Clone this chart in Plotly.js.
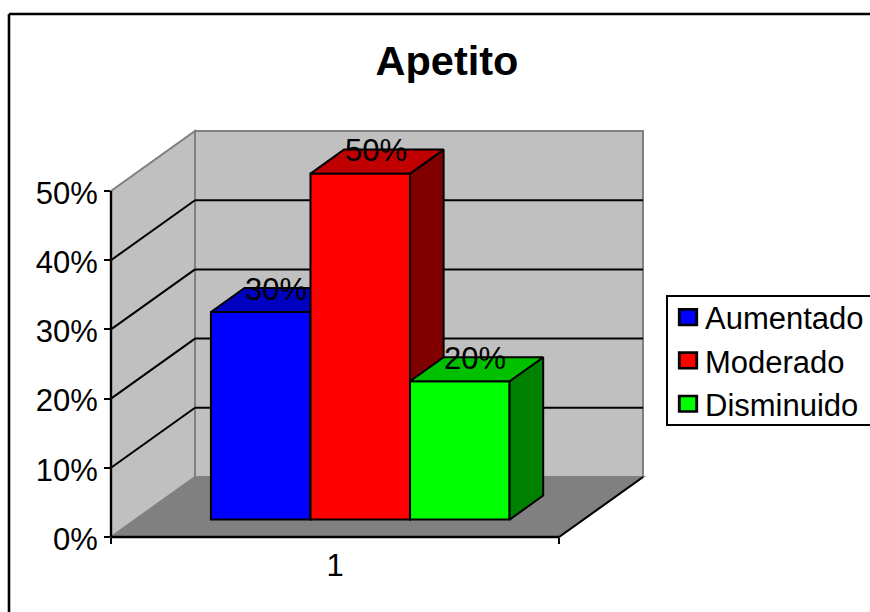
<!DOCTYPE html>
<html>
<head>
<meta charset="utf-8">
<script src="https://cdn.plot.ly/plotly-3.0.1.min.js"></script>
<style>
  html, body { margin: 0; padding: 0; background: #fff; overflow: hidden; }
  /* Larger legend swatches than the library default */
  .legend .legendpoints path { transform: translate(23px, 0) scale(1.45, 1.3); }
</style>
</head>
<body>
<div id="chart" style="width:870px;height:612px"></div>
<script>
// Series and labels
const seriesNames = ['Aumentado', 'Moderado', 'Disminuido'];
const seriesValues = [30, 50, 20];
const frontColors = ['#0000ff', '#ff0000', '#00ff00'];
const topColors = ['#0000c0', '#c00000', '#00c000'];
const sideColors = ['#000080', '#800000', '#008000'];
const categoryLabel = '1';
const valueTicks = [0, 10, 20, 30, 40, 50];
const valueTickLabels = ['0%', '10%', '20%', '30%', '40%', '50%'];

// Oblique projection: one full unit of depth moves a point by (depthX, depthY) in axis units
const depthX = 0.1875;
const depthY = 8.67;
const barDepthStart = 0.29;
const barDepthSize = 0.4;
const barInset = 0.002;
const gapWidth = 1.5;
const barWidth = 1 / (seriesNames.length + gapWidth);

const xRange = [0.5, 1.5 + depthX];
const yRange = [0, 50 + depthY];
const plotBox = { l: 111, r: 643, t: 131, b: 537 };

const project = (x, y, d) => [x + d * depthX, y + d * depthY];
const paperX = x => (x - xRange[0]) / (xRange[1] - xRange[0]);
const paperY = y => (y - yRange[0]) / (yRange[1] - yRange[0]);
// Window pixels to paper fractions, for items outside the plot box
const pixelX = px => (px - plotBox.l) / (plotBox.r - plotBox.l);
const pixelY = py => (plotBox.b - py) / (plotBox.b - plotBox.t);

// Closed SVG path in paper coordinates from projected points
function facePath(points) {
  return 'M' + points.map(p => paperX(p[0]) + ',' + paperY(p[1])).join('L') + 'Z';
}
function area(points, fill, edge) {
  return { type: 'path', xref: 'paper', yref: 'paper', layer: 'below', path: facePath(points),
           fillcolor: fill, line: { color: edge, width: 2 } };
}
function segment(a, b, color, width) {
  return { type: 'line', xref: 'paper', yref: 'paper', layer: 'below',
           x0: paperX(a[0]), y0: paperY(a[1]), x1: paperX(b[0]), y1: paperY(b[1]),
           line: { color: color, width: width } };
}

const x0 = 0.5, x1 = 1.5, wallTop = 50;
const shapes = [
  // Floor, side wall and back wall
  area([project(x0, 0, 0), project(x1, 0, 0), project(x1, 0, 1), project(x0, 0, 1)], '#808080', '#808080'),
  area([project(x0, 0, 0), project(x0, wallTop, 0), project(x0, wallTop, 1), project(x0, 0, 1)], '#c0c0c0', '#808080'),
  area([project(x0, 0, 1), project(x0, wallTop, 1), project(x1, wallTop, 1), project(x1, 0, 1)], '#c0c0c0', '#808080')
];
// Gridlines run along the side wall and across the back wall
valueTicks.filter(v => v > 0 && v < wallTop).forEach(v => {
  shapes.push(segment(project(x0, v, 0), project(x0, v, 1), '#000', 2));
  shapes.push(segment(project(x0, v, 1), project(x1, v, 1), '#000', 2));
});
// Axis lines along the front of the box and the right floor edge
shapes.push(segment(project(x1, 0, 0), project(x1, 0, 1), '#000', 2));
shapes.push(segment(project(x0, 0, 0), project(x1, 0, 0), '#000', 2.4));
shapes.push(segment(project(x0, 0, 0), project(x0, wallTop, 0), '#000', 2.4));

// Chart frame along the top and left edges
[[9, 14, 872, 14], [9, 14, 9, 614]].forEach(c => {
  shapes.push({ type: 'line', xref: 'paper', yref: 'paper',
                x0: pixelX(c[0]), y0: pixelY(c[1]), x1: pixelX(c[2]), y1: pixelY(c[3]),
                line: { color: '#000', width: 2.6 } });
});
// Legend box, open past the right edge of the window
shapes.push({ type: 'rect', xref: 'paper', yref: 'paper',
              x0: pixelX(667), y0: pixelY(296), x1: pixelX(875), y1: pixelY(425),
              fillcolor: '#fff', line: { color: '#000', width: 2 } });

// Each bar lives on its own overlaid axis pair so nearer bars paint over farther ones
const traces = [];
const annotations = [];
seriesNames.forEach((name, i) => {
  const value = seriesValues[i];
  const xa = i === 0 ? 'x' : 'x' + (i + 1);
  const ya = i === 0 ? 'y' : 'y' + (i + 1);
  const left = x0 + barInset + barWidth * gapWidth / 2 + i * barWidth;
  const right = left + barWidth;
  const d0 = barDepthStart, d1 = barDepthStart + barDepthSize;
  const front = project(left + barWidth / 2, 0, d0);

  traces.push({
    type: 'bar', name: name, x: [front[0]], y: [value], base: [front[1]], width: [barWidth],
    xaxis: xa, yaxis: ya, marker: { color: frontColors[i], line: { color: '#000', width: 2 } },
    hoverinfo: 'name+y', legendrank: i + 1
  });

  const side = [project(right, 0, d0), project(right, value, d0), project(right, value, d1), project(right, 0, d1), project(right, 0, d0)];
  const topFace = [project(left, value, d0), project(right, value, d0), project(right, value, d1), project(left, value, d1), project(left, value, d0)];
  [[side, sideColors[i]], [topFace, topColors[i]]].forEach(f => {
    traces.push({
      type: 'scatter', mode: 'lines', x: f[0].map(p => p[0]), y: f[0].map(p => p[1]),
      fill: 'toself', fillcolor: f[1], line: { color: '#000', width: 2 },
      xaxis: xa, yaxis: ya, showlegend: false, hoverinfo: 'skip'
    });
  });

  const labelAt = project(left + barWidth / 2, value, d1);
  annotations.push({
    xref: 'x', yref: 'y', x: labelAt[0] - barDepthSize / 2 * depthX, y: labelAt[1], xshift: -1.5, yshift: -1,
    text: value + '%', showarrow: false, xanchor: 'center', yanchor: 'middle',
    font: { family: 'Liberation Sans', size: 31, color: '#000' }
  });
});

const layout = {
  width: 870, height: 612,
  margin: { l: plotBox.l, r: 870 - plotBox.r, t: plotBox.t, b: 612 - plotBox.b, autoexpand: false },
  paper_bgcolor: '#fff', plot_bgcolor: 'rgba(0,0,0,0)',
  font: { family: 'Liberation Sans', size: 31, color: '#000' },
  barmode: 'overlay',
  title: {
    text: '<b>Apetito</b>', xref: 'container', yref: 'container', x: 447 / 870, y: 1 - 60 / 612,
    xanchor: 'center', yanchor: 'middle', font: { family: 'Liberation Sans', size: 41.5, color: '#000' }
  },
  xaxis: {
    type: 'linear', range: xRange, fixedrange: true, showgrid: false, zeroline: false, showline: false,
    tickmode: 'array', tickvals: [1], ticktext: [categoryLabel], ticks: '', ticklabelstandoff: 7,
    minor: { tickmode: 'array', tickvals: [x0, x1], ticks: 'outside', ticklen: 6, tickwidth: 2, tickcolor: '#000', showgrid: false }
  },
  yaxis: {
    type: 'linear', range: yRange, fixedrange: true, showgrid: false, zeroline: false, showline: false,
    tickmode: 'array', tickvals: valueTicks, ticktext: valueTickLabels, ticks: 'outside', ticklen: 6, tickwidth: 2, tickcolor: '#000',
    ticklabelshift: 2
  },
  legend: {
    xref: 'container', yref: 'container', x: 665 / 870, y: 1 - 290.5 / 612, xanchor: 'left', yanchor: 'top',
    bgcolor: 'rgba(0,0,0,0)', borderwidth: 0, font: { family: 'Liberation Sans', size: 31, color: '#000' },
    traceorder: 'normal'
  },
  shapes: shapes,
  annotations: annotations,
  showlegend: true
};
[2, 3].forEach(n => {
  layout['xaxis' + n] = { overlaying: 'x', range: xRange, visible: false, fixedrange: true };
  layout['yaxis' + n] = { overlaying: 'y', range: yRange, visible: false, fixedrange: true };
});

Plotly.newPlot('chart', traces, layout, { displayModeBar: false, staticPlot: true });
</script>
</body>
</html>
